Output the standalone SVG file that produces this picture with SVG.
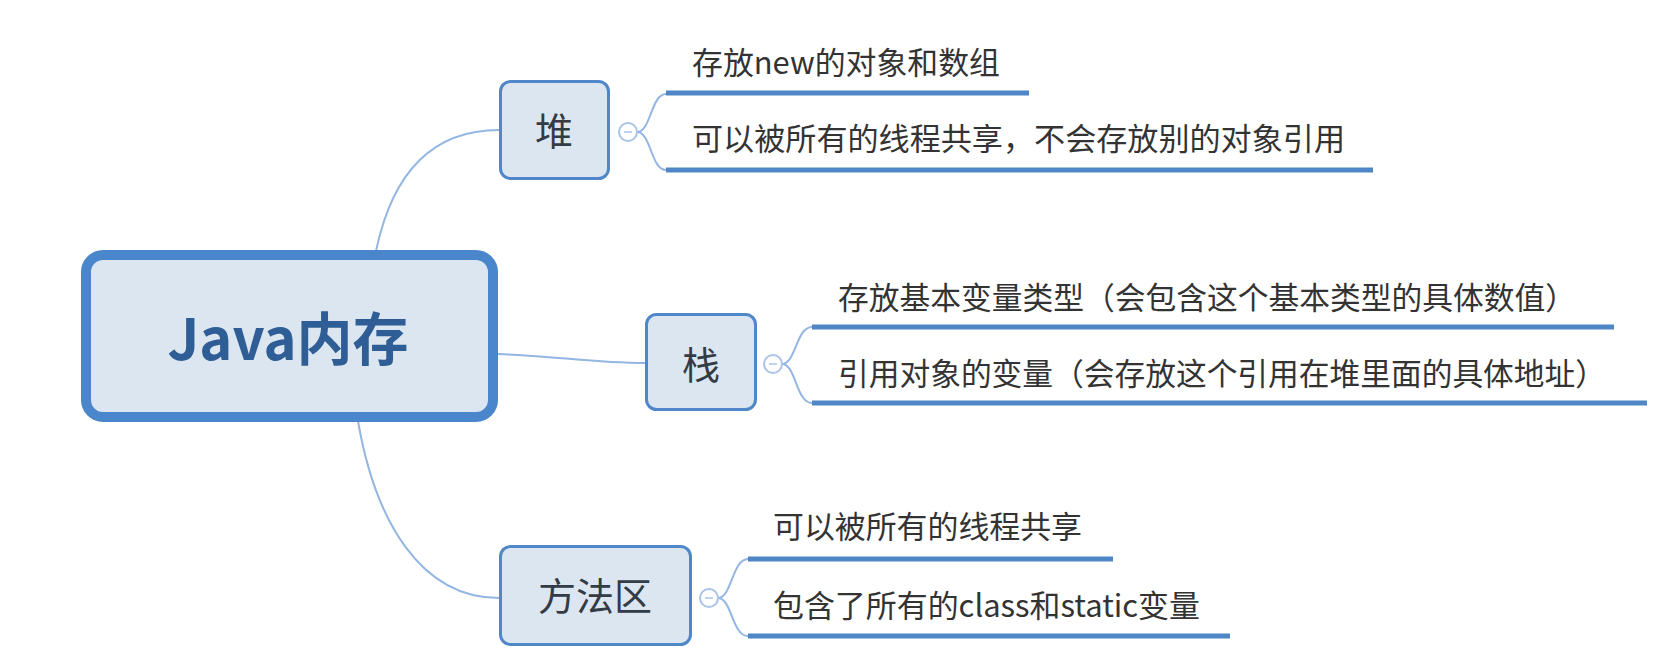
<svg xmlns="http://www.w3.org/2000/svg" width="1659" height="652" viewBox="0 0 1659 652">
<style>
.node rect{fill:#dce6f1;stroke:#4f87c9;stroke-width:3}
#root rect{stroke-width:10;stroke:#4a86cb}
.lbl{font-family:"Noto Sans CJK SC","Liberation Sans",sans-serif;fill:#333b45;text-anchor:middle;font-size:38px}
.root-lbl{font-family:"Noto Sans CJK SC","Liberation Sans",sans-serif;fill:#2f5e96;text-anchor:middle;font-size:57px;font-weight:bold}
.leaf{font-family:"Noto Sans CJK SC","Liberation Sans",sans-serif;fill:#333;font-size:31px}
.conn path{fill:none;stroke:#93b6e2;stroke-width:2}
.under{stroke:#4f86c6;stroke-width:5;stroke-linecap:butt}
.toggle circle{fill:#fff;stroke:#a9c4e8;stroke-width:2}
.toggle line{stroke:#a9c4e8;stroke-width:1.5}
</style>
<rect width="1659" height="652" fill="#fff"/>
<g class="conn" id="connectors">
<path d="M376,251 C392,175 430,130 499,130"/>
<path d="M497,354 C560,356 590,363 645,363"/>
<path d="M358,421 C375,520 420,598 499,598"/>
<path d="M637,132 C651,132 651,94 666,94 M637,132 C651,132 651,170 666,170"/>
<path d="M782,364 C796,364 796,327 812,327 M782,364 C796,364 796,403 812,403"/>
<path d="M718,598 C732,598 732,559 748,559 M718,598 C732,598 732,636 748,636"/>
</g>
<g class="node" id="root">
<rect x="86" y="255" width="407" height="162" rx="17"/>
<text class="root-lbl" x="288" y="360" textLength="241" lengthAdjust="spacingAndGlyphs">Java内存</text>
</g>
<g class="node" id="heap">
<rect x="500.5" y="81.5" width="108" height="97" rx="10"/>
<text class="lbl" x="554" y="145">堆</text>
</g>
<g class="node" id="stack">
<rect x="646.5" y="314.5" width="109" height="95" rx="10"/>
<text class="lbl" x="701" y="379">栈</text>
</g>
<g class="node" id="method">
<rect x="500.5" y="546.5" width="190" height="98" rx="10"/>
<text class="lbl" x="595" y="610">方法区</text>
</g>
<g class="toggle" id="toggles">
<circle cx="628" cy="132" r="9"/><line x1="624" y1="132" x2="632" y2="132"/>
<circle cx="773" cy="364" r="9"/><line x1="769" y1="364" x2="777" y2="364"/>
<circle cx="709" cy="598" r="9"/><line x1="705" y1="598" x2="713" y2="598"/>
</g>
<g id="heap-items">
<text class="leaf" x="692" y="74" textLength="308" lengthAdjust="spacingAndGlyphs">存放new的对象和数组</text>
<line class="under" x1="666" y1="93" x2="1029" y2="93"/>
<text class="leaf" x="692" y="150" textLength="653" lengthAdjust="spacingAndGlyphs">可以被所有的线程共享，不会存放别的对象引用</text>
<line class="under" x1="666" y1="170" x2="1373" y2="170"/>
</g>
<g id="stack-items">
<text class="leaf" x="838" y="309" textLength="738" lengthAdjust="spacingAndGlyphs">存放基本变量类型（会包含这个基本类型的具体数值）</text>
<line class="under" x1="812" y1="327" x2="1614" y2="327"/>
<text class="leaf" x="838" y="385" textLength="768" lengthAdjust="spacingAndGlyphs">引用对象的变量（会存放这个引用在堆里面的具体地址）</text>
<line class="under" x1="812" y1="403" x2="1647" y2="403"/>
</g>
<g id="method-items">
<text class="leaf" x="773" y="538" textLength="309" lengthAdjust="spacingAndGlyphs">可以被所有的线程共享</text>
<line class="under" x1="748" y1="559" x2="1113" y2="559"/>
<text class="leaf" x="773" y="617" textLength="427" lengthAdjust="spacingAndGlyphs">包含了所有的class和static变量</text>
<line class="under" x1="748" y1="636" x2="1230" y2="636"/>
</g>
</svg>
